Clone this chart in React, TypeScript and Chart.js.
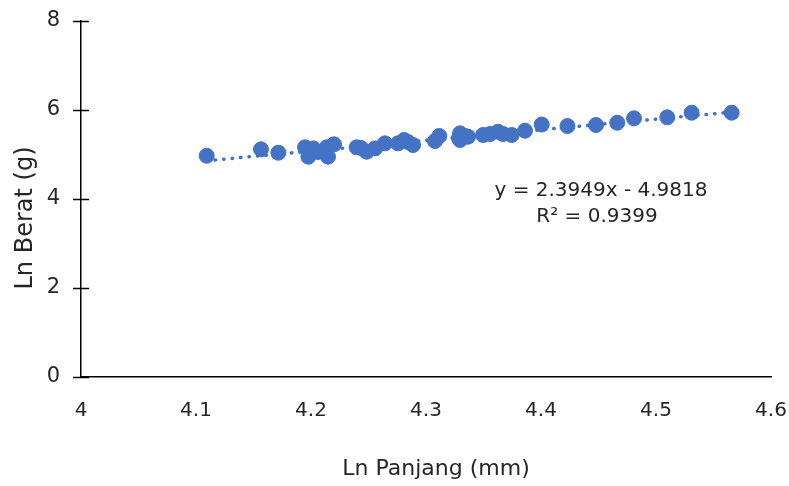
import React, { useEffect, useRef } from "react";
import { Chart, registerables } from "chart.js";

Chart.register(...registerables);

// ---- data ----
const lnPanjang = [
  4.1093, 4.1565, 4.1716, 4.1948, 4.1977, 4.202, 4.2061, 4.2137, 4.2148, 4.22,
  4.2397, 4.2435, 4.2484, 4.2557, 4.2643, 4.2757, 4.2809, 4.2843, 4.2887, 4.3078,
  4.3116, 4.3287, 4.3296, 4.3296, 4.3339, 4.3365, 4.3496, 4.3557, 4.3626, 4.367,
  4.3745, 4.3861, 4.4006, 4.423, 4.4478, 4.4663, 4.4809, 4.5098, 4.531, 4.5658,
];
const lnBerat = [
  4.973, 5.117, 5.04, 5.162, 4.951, 5.137, 5.056, 5.162, 4.951, 5.229,
  5.162, 5.146, 5.063, 5.137, 5.251, 5.251, 5.326, 5.281, 5.213, 5.303,
  5.416, 5.371, 5.476, 5.326, 5.416, 5.4, 5.438, 5.461, 5.512, 5.461,
  5.438, 5.535, 5.674, 5.64, 5.663, 5.714, 5.813, 5.836, 5.939, 5.939,
];
const trendSlope = 2.3949;
const trendIntercept = -4.9818;
const rSquared = 0.9399;
const xRange = [4, 4.6];
const yRange = [0, 8];
const xTitle = "Ln Panjang (mm)";
const yTitle = "Ln Berat (g)";

const BLUE = "#4472C4";
const TEXT = "#262626";
const FONT = "'DejaVu Sans', sans-serif";

export default function App() {
  const ref = useRef<HTMLCanvasElement | null>(null);

  useEffect(() => {
    if (!ref.current) return;
    const pts = lnPanjang.map((x, i) => ({ x, y: lnBerat[i] }));
    const xMin = Math.min(...lnPanjang);
    const xMax = Math.max(...lnPanjang);
    const trend = [
      { x: xMin, y: trendSlope * xMin + trendIntercept },
      { x: xMax, y: trendSlope * xMax + trendIntercept },
    ];

    const extras = {
      id: "extras",
      afterDraw(chart: any) {
        const ctx = chart.ctx;
        const ys = chart.scales.y;
        const axisX = chart.chartArea.left;
        ctx.save();
        // crossing tick marks on y axis
        ctx.strokeStyle = "#000";
        ctx.lineWidth = 1.5;
        ys.ticks.forEach((t: any) => {
          const py = Math.round(ys.getPixelForValue(t.value)) + 0.5;
          ctx.beginPath();
          ctx.moveTo(axisX - 8, py);
          ctx.lineTo(axisX + 8, py);
          ctx.stroke();
        });
        // equation label
        ctx.fillStyle = TEXT;
        ctx.textAlign = "center";
        ctx.textBaseline = "middle";
        ctx.font = `20px ${FONT}`;
        const sign = trendIntercept < 0 ? "-" : "+";
        ctx.fillText(
          `y = ${trendSlope.toFixed(4)}x ${sign} ${Math.abs(trendIntercept).toFixed(4)}`,
          601,
          191
        );
        ctx.fillText(`R² = ${rSquared.toFixed(4)}`, 597, 217);
        // axis titles
        ctx.font = `22px ${FONT}`;
        ctx.fillText(xTitle, 436, 469);
        ctx.save();
        ctx.translate(26, 218);
        ctx.rotate(-Math.PI / 2);
        ctx.font = `24px ${FONT}`;
        ctx.fillText(yTitle, 0, 0);
        ctx.restore();
        ctx.restore();
      },
    };

    const chart = new Chart(ref.current, {
      type: "scatter",
      data: {
        datasets: [
          {
            type: "scatter",
            data: pts,
            backgroundColor: BLUE,
            borderColor: BLUE,
            pointRadius: 7.5,
            pointHoverRadius: 7.5,
            order: 1,
          },
          {
            type: "line",
            data: trend,
            showLine: true,
            borderColor: BLUE,
            borderWidth: 3.5,
            borderDash: [0.5, 8],
            borderCapStyle: "round",
            pointRadius: 0,
            fill: false,
            order: 2,
          } as any,
        ],
      },
      options: {
        responsive: false,
        animation: false,
        devicePixelRatio: 1,
        layout: { padding: { top: 21, right: 18, left: 0, bottom: 0 } },
        plugins: {
          legend: { display: false },
          tooltip: { enabled: false },
        },
        scales: {
          x: {
            type: "linear",
            min: xRange[0],
            max: xRange[1],
            afterFit: (s: any) => {
              s.height = 109;
              s.paddingLeft = 0;
              s.paddingRight = 0;
            },
            grid: { display: false, drawTicks: false },
            border: { display: true, color: "#000", width: 1.5 },
            ticks: {
              stepSize: 0.1,
              padding: 22,
              color: TEXT,
              font: { family: FONT, size: 20 },
              callback: (v: any) => String(Math.round(Number(v) * 10) / 10),
            },
          },
          y: {
            type: "linear",
            min: yRange[0],
            max: yRange[1],
            afterFit: (s: any) => {
              s.width = 81;
              s.paddingTop = 0;
              s.paddingBottom = 0;
            },
            grid: { display: false, drawTicks: false },
            border: { display: true, color: "#000", width: 1.5 },
            ticks: {
              stepSize: 2,
              padding: 21,
              color: TEXT,
              font: { family: FONT, size: 21 },
            },
          },
        },
      },
      plugins: [extras],
    });
    return () => chart.destroy();
  }, []);

  return (
    <div style={{ position: "fixed", left: 0, top: 0, width: 789, height: 486, background: "#fff" }}>
      <canvas ref={ref} width={789} height={486} />
    </div>
  );
}
